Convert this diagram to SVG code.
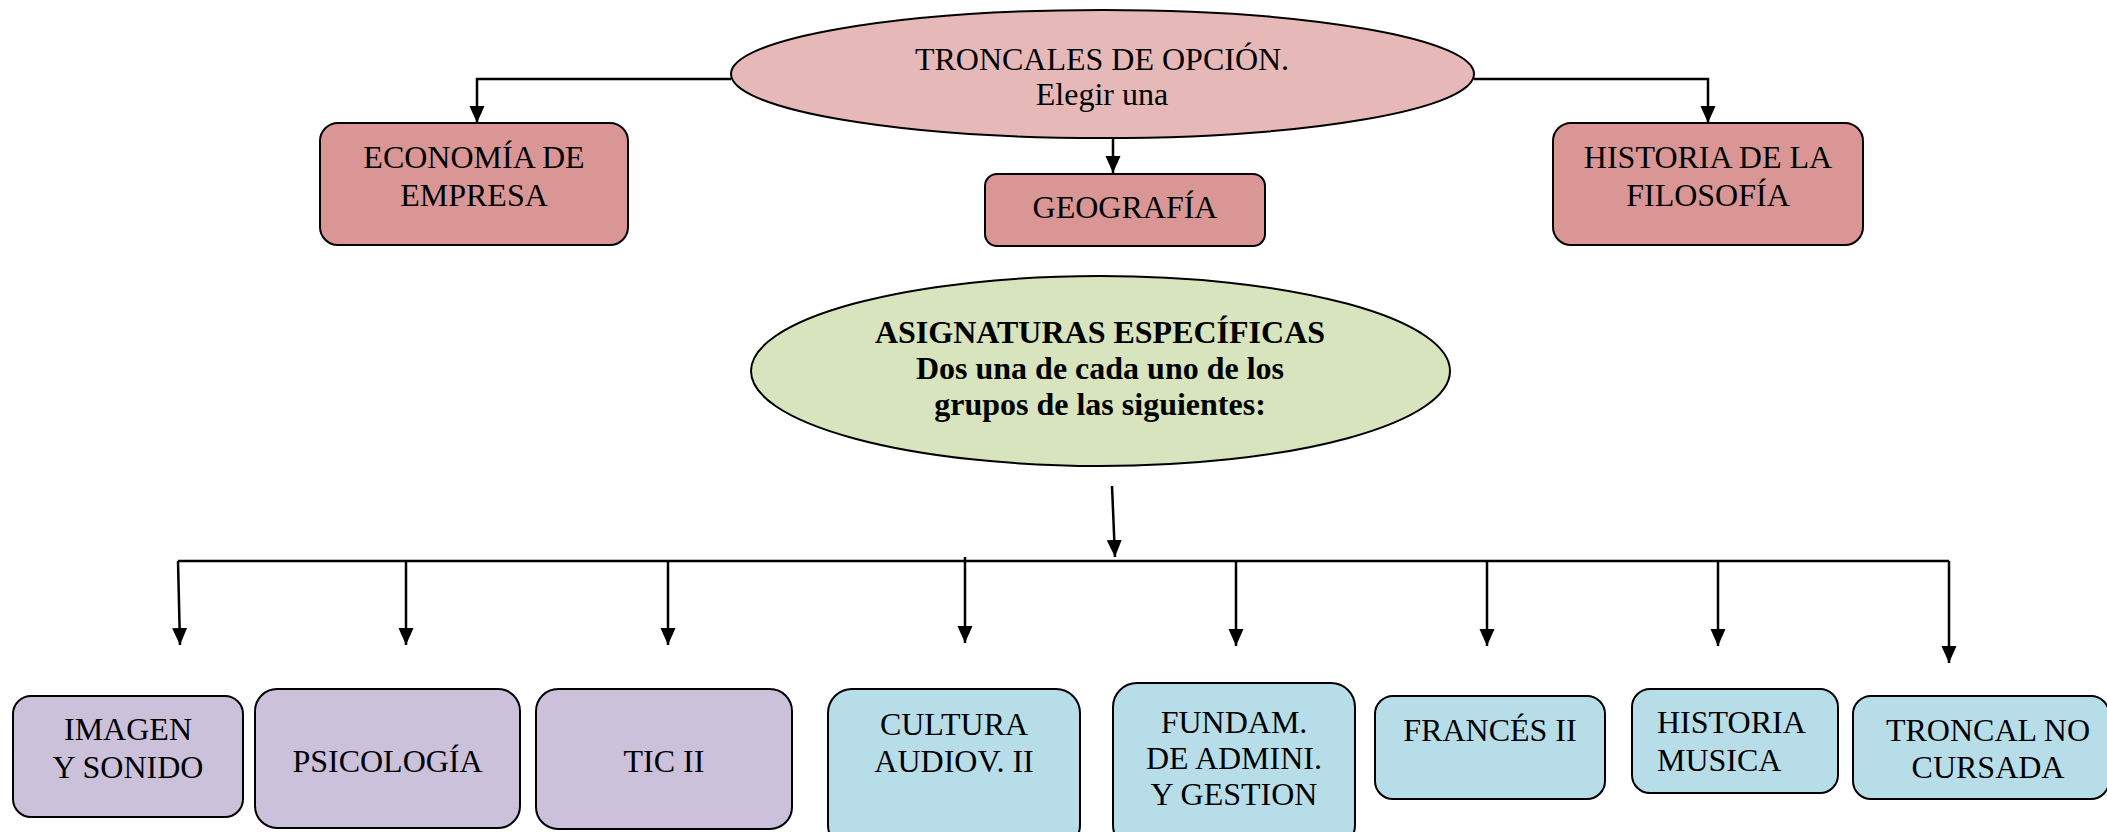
<svg xmlns="http://www.w3.org/2000/svg" width="2107" height="832" viewBox="0 0 2107 832">
<style>
text{font-family:"Liberation Serif","Times New Roman",serif;font-size:32px;fill:#000;text-anchor:middle}
.b{font-weight:bold}
.box{stroke:#000;stroke-width:2}
.red{fill:#D99694}
.pur{fill:#CCC1DA}
.blu{fill:#B7DEE8}
.con{fill:none;stroke:#000;stroke-width:2.5;marker-end:url(#ah)}
</style>
<defs>
<marker id="ah" markerUnits="userSpaceOnUse" markerWidth="18" markerHeight="16" refX="17" refY="7.5" orient="auto">
<path d="M0,0 L17,7.5 L0,15 z" fill="#000"/>
</marker>
</defs>
<rect width="2107" height="832" fill="#fff"/>
<g id="connectors">
<path class="con" d="M731 79 H477 V123"/>
<path class="con" d="M1113 138 V173"/>
<path class="con" d="M1474 79 H1708 V123"/>
<path class="con" d="M1112 486 L1115 557"/>
<path d="M178 561 H1949" fill="none" stroke="#000" stroke-width="2.5"/>
<path class="con" d="M178 561 L180 645"/>
<path class="con" d="M406 561 V645"/>
<path class="con" d="M668 561 V645"/>
<path class="con" d="M965 557 V643"/>
<path class="con" d="M1236 561 V646"/>
<path class="con" d="M1487 561 V646"/>
<path class="con" d="M1718 561 V646"/>
<path class="con" d="M1949 561 V663"/>
</g>
<g id="troncales">
<ellipse cx="1102.5" cy="74" rx="371.5" ry="64" fill="#E6B9B8" class="box"/>
<text x="1102" y="70">TRONCALES DE OPCIÓN.</text>
<text x="1102" y="105">Elegir una</text>
</g>
<g id="economia">
<rect x="320" y="123" width="308" height="122" rx="18" class="box red"/>
<text x="474" y="168">ECONOMÍA DE</text>
<text x="474" y="206">EMPRESA</text>
</g>
<g id="geografia">
<rect x="985" y="174" width="280" height="72" rx="12" class="box red"/>
<text x="1125" y="218">GEOGRAFÍA</text>
</g>
<g id="historia-filosofia">
<rect x="1553" y="123" width="310" height="122" rx="18" class="box red"/>
<text x="1708" y="168">HISTORIA DE LA</text>
<text x="1708" y="206">FILOSOFÍA</text>
</g>
<g id="especificas">
<ellipse cx="1100.5" cy="371" rx="349.5" ry="95" fill="#D7E4BD" class="box"/>
<text class="b" x="1100" y="343">ASIGNATURAS ESPECÍFICAS</text>
<text class="b" x="1100" y="379">Dos una de cada uno de los</text>
<text class="b" x="1100" y="415">grupos de las siguientes:</text>
</g>
<g id="imagen">
<rect x="13" y="696" width="230" height="121" rx="18" class="box pur"/>
<text x="128" y="740">IMAGEN</text>
<text x="128" y="778">Y SONIDO</text>
</g>
<g id="psicologia">
<rect x="255" y="689" width="265" height="139" rx="22" class="box pur"/>
<text x="387.5" y="772">PSICOLOGÍA</text>
</g>
<g id="tic">
<rect x="536" y="689" width="256" height="140" rx="22" class="box pur"/>
<text x="664" y="772">TIC II</text>
</g>
<g id="cultura">
<rect x="828" y="689" width="252" height="160" rx="24" class="box blu"/>
<text x="954" y="735">CULTURA</text>
<text x="954" y="772">AUDIOV. II</text>
</g>
<g id="fundam">
<rect x="1113" y="683" width="242" height="166" rx="24" class="box blu"/>
<text x="1234" y="733">FUNDAM.</text>
<text x="1234" y="769">DE ADMINI.</text>
<text x="1234" y="805">Y GESTION</text>
</g>
<g id="frances">
<rect x="1375" y="696" width="230" height="103" rx="18" class="box blu"/>
<text x="1490" y="741">FRANCÉS II</text>
</g>
<g id="historia-musica">
<rect x="1632" y="689" width="206" height="104" rx="18" class="box blu"/>
<text x="1657" y="733" style="text-anchor:start">HISTORIA</text>
<text x="1657" y="771" style="text-anchor:start">MUSICA</text>
</g>
<g id="troncal-no-cursada">
<rect x="1853" y="696" width="256" height="103" rx="18" class="box blu"/>
<text x="1988" y="741">TRONCAL NO</text>
<text x="1988" y="778">CURSADA</text>
</g>
</svg>
